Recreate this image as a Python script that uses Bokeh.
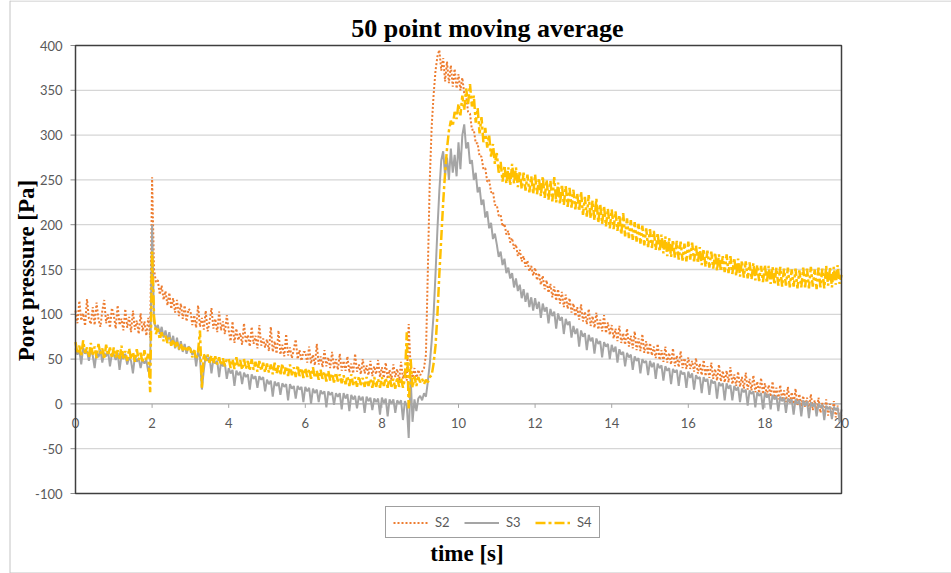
from math import pi

from bokeh.plotting import figure
from bokeh.models import Range1d, Legend, LegendItem, Label
from bokeh.core.properties import value
from bokeh.embed import file_html
from bokeh.resources import INLINE

# sample times, 0.05 s apart, 0 .. 20 s
time_s = [round(0.05 * i, 2) for i in range(401)]

# 50 point moving average of the pore pressure [Pa] at three sensors
s2 = [
    104, 90, 115, 93, 101, 87, 117, 95, 89, 108, 88, 113, 94, 86, 104, 116, 90, 100, 85, 107,
    99, 84, 110, 88, 95, 82, 106, 85, 97, 80, 104, 83, 93, 78, 101, 81, 92, 76, 96, 74,
    253, 150, 136, 138, 122, 132, 116, 126, 110, 124, 106, 118, 102, 116, 98, 112, 95, 110, 92, 106,
    104, 88, 99, 85, 110, 86, 96, 83, 104, 81, 92, 107, 84, 95, 80, 103, 82, 92, 78, 99,
    82, 70, 92, 68, 84, 71, 79, 66, 90, 68, 77, 64, 86, 67, 76, 62, 88, 65, 73, 63,
    72, 59, 86, 58, 70, 56, 82, 55, 66, 53, 78, 54, 63, 51, 61, 72, 50, 60, 48, 58,
    58, 46, 64, 45, 55, 43, 67, 44, 53, 41, 60, 42, 52, 40, 58, 39, 50, 38, 56, 37,
    48, 37, 53, 35, 45, 34, 56, 36, 44, 33, 50, 34, 43, 32, 48, 31, 42, 33, 49, 30,
    41, 29, 46, 28, 38, 27, 44, 30, 39, 26, 47, 28, 37, 26, 89, 40, 29, 40, 27, 38,
    32, 36, 40, 55, 150, 250, 310, 345, 372, 388, 395, 372, 386, 360, 382, 358, 378, 354, 374, 352,
    368, 350, 364, 346, 344, 326, 324, 306, 306, 291, 291, 276, 276, 262, 263, 248, 250, 236, 237, 222,
    222, 210, 211, 198, 201, 189, 193, 180, 185, 173, 178, 165, 172, 159, 165, 153, 160, 148, 154, 143,
    152, 138, 146, 133, 143, 128, 138, 124, 134, 119, 131, 115, 128, 112, 125, 108, 122, 106, 118, 102,
    112, 98, 108, 94, 111, 92, 103, 89, 106, 87, 98, 85, 102, 83, 94, 81, 99, 79, 91, 77,
    88, 73, 84, 70, 87, 68, 79, 66, 84, 64, 76, 62, 81, 60, 73, 59, 78, 57, 70, 55,
    68, 54, 64, 51, 67, 49, 60, 47, 64, 46, 57, 44, 62, 42, 54, 41, 59, 40, 51, 39,
    52, 39, 48, 36, 51, 34, 45, 32, 49, 31, 42, 29, 46, 28, 39, 26, 44, 25, 37, 24,
    37, 24, 41, 22, 33, 20, 36, 19, 30, 17, 35, 16, 28, 15, 32, 13, 25, 12, 29, 11,
    23, 10, 21, 8, 25, 7, 18, 5, 21, 4, 15, 2, 19, 1, 13, 0, 17, -2, 11, -3,
    9, -4, 7, -6, 11, -7, 4, -9, 7, -10, 1, -12, 5, -13, 0, -14, 3, -15, -2, -16,
    -12,
]

s3 = [
    62, 55, 60, 44, 63, 56, 59, 48, 61, 54, 40, 58, 52, 60, 46, 57, 53, 59, 42, 56,
    55, 49, 57, 38, 54, 50, 56, 44, 52, 48, 34, 53, 47, 51, 40, 50, 45, 49, 36, 44,
    200, 92, 84, 88, 78, 86, 74, 82, 70, 80, 66, 76, 62, 74, 60, 70, 58, 67, 56, 64,
    62, 55, 60, 42, 58, 52, 16, 38, 54, 48, 52, 34, 50, 45, 48, 30, 47, 42, 45, 28,
    40, 34, 38, 20, 37, 32, 36, 22, 35, 30, 33, 16, 33, 28, 31, 18, 31, 27, 30, 14,
    27, 22, 26, 8, 25, 20, 24, 10, 23, 19, 22, 4, 22, 17, 20, 6, 20, 16, 19, 2,
    19, 14, 18, 0, 17, 12, 16, 2, 15, 11, 14, -4, 14, 10, 13, -1, 12, 8, 12, -6,
    12, 6, 11, -8, 10, 5, 9, -5, 9, 4, 8, -10, 8, 3, 7, -7, 6, 2, 6, -12,
    7, 1, 6, -14, 5, 0, 5, -10, 4, 0, 4, -18, 3, -2, -38, 30, -20, 5, -8, 6,
    9, 4, 12, 8, 25, 45, 70, 100, 145, 195, 238, 272, 282, 255, 275, 250, 285, 258, 278, 254,
    292, 262, 300, 312, 285, 292, 268, 272, 250, 258, 236, 242, 222, 228, 208, 215, 196, 202, 184, 190,
    178, 164, 170, 155, 162, 146, 152, 140, 146, 130, 140, 126, 133, 118, 128, 114, 124, 108, 119, 104,
    118, 106, 114, 96, 112, 103, 108, 90, 106, 98, 103, 84, 101, 93, 97, 78, 95, 88, 92, 74,
    87, 78, 84, 64, 82, 75, 79, 60, 77, 70, 74, 56, 73, 67, 70, 52, 69, 64, 67, 50,
    66, 58, 64, 46, 61, 55, 58, 42, 57, 52, 55, 38, 53, 48, 51, 34, 50, 46, 48, 32,
    48, 41, 46, 28, 45, 40, 43, 26, 42, 37, 40, 22, 39, 35, 38, 20, 37, 33, 35, 18,
    36, 29, 34, 16, 32, 28, 30, 12, 30, 25, 28, 10, 27, 23, 25, 6, 24, 20, 23, 4,
    23, 17, 21, 4, 20, 15, 19, 2, 17, 13, 16, -2, 15, 11, 14, -4, 13, 9, 12, -6,
    13, 7, 11, -6, 10, 5, 9, -8, 8, 3, 7, -10, 6, 2, 5, -12, 5, 0, 4, -14,
    4, -2, 3, -16, 2, -3, 1, -14, 0, -4, -1, -18, -2, -6, -3, -17, -3, -7, -4, -20,
    -6,
]

s4 = [
    69, 56, 65, 53, 71, 57, 63, 52, 68, 55, 64, 51, 67, 56, 62, 50, 66, 54, 63, 51,
    63, 52, 60, 49, 65, 51, 59, 48, 62, 50, 58, 47, 61, 49, 57, 46, 60, 48, 56, 13,
    170, 98, 78, 84, 72, 80, 70, 76, 68, 74, 65, 72, 63, 69, 61, 67, 60, 65, 58, 63,
    61, 52, 60, 50, 59, 82, 18, 56, 48, 55, 46, 54, 45, 53, 44, 52, 43, 51, 42, 50,
    51, 40, 50, 39, 52, 41, 49, 38, 50, 39, 48, 37, 50, 38, 47, 36, 48, 37, 46, 35,
    45, 35, 44, 33, 46, 34, 43, 32, 45, 33, 42, 31, 44, 32, 41, 30, 43, 31, 40, 29,
    40, 30, 39, 28, 41, 29, 37, 27, 38, 28, 36, 25, 37, 26, 34, 24, 35, 25, 33, 23,
    32, 22, 31, 20, 33, 21, 30, 19, 31, 21, 29, 19, 30, 20, 28, 18, 30, 19, 28, 18,
    30, 20, 29, 18, 31, 19, 28, 17, 30, 19, 29, 18, 28, 80, -5, 50, 18, 31, 20, 30,
    24, 28, 22, 27, 24, 30, 32, 45, 65, 100, 145, 185, 225, 258, 285, 305, 316, 310, 326, 318,
    335, 322, 344, 328, 352, 334, 357, 332, 344, 314, 330, 302, 320, 292, 308, 286, 300, 276, 290, 268,
    280, 258, 270, 248, 266, 246, 264, 244, 268, 246, 264, 242, 260, 240, 258, 238, 256, 236, 254, 234,
    256, 234, 252, 232, 254, 230, 250, 228, 249, 226, 253, 225, 247, 223, 245, 222, 243, 220, 241, 219,
    239, 217, 235, 215, 237, 211, 231, 209, 233, 207, 227, 205, 229, 202, 223, 201, 221, 198, 218, 196,
    217, 195, 215, 193, 211, 189, 213, 187, 207, 185, 205, 183, 203, 181, 201, 179, 199, 177, 196, 175,
    195, 174, 193, 172, 191, 170, 189, 168, 187, 165, 185, 164, 183, 163, 182, 161, 181, 160, 179, 159,
    181, 161, 180, 159, 177, 157, 175, 155, 173, 153, 171, 152, 170, 151, 169, 149, 167, 148, 165, 147,
    167, 146, 165, 145, 163, 143, 162, 142, 160, 141, 159, 140, 158, 139, 157, 138, 155, 137, 154, 136,
    155, 135, 154, 134, 153, 133, 152, 132, 153, 131, 151, 132, 152, 130, 150, 131, 151, 129, 149, 130,
    152, 130, 151, 129, 153, 131, 150, 128, 152, 130, 151, 129, 154, 132, 152, 130, 153, 133, 155, 134,
    144,
]

x_ticks = [0, 2, 4, 6, 8, 10, 12, 14, 16, 18, 20]
x_labels = ["0", "2", "4", "6", "8", "10", "12", "14", "16", "18", "20"]
y_ticks = [-100, -50, 0, 50, 100, 150, 200, 250, 300, 350, 400]
y_labels = ["-100", "-50", "0", "50", "100", "150", "200", "250", "300", "350", "400"]

X_MIN, X_MAX = 0, 20
Y_MIN, Y_MAX = -100, 400

# page size and the pixel box of the plotting area
W, H = 951, 573
PL, PR, PT, PB = 75, 841, 45, 493
XS = (X_MAX - X_MIN) / (PR - PL)   # data units per pixel
YS = (Y_MAX - Y_MIN) / (PB - PT)


def dx(px):
    return X_MIN + (px - PL) * XS


def dy(py):
    return Y_MAX - (py - PT) * YS


TICK_FONT = value("Lato")
TICK_COLOR = "#595959"
SERIF = "Liberation Serif"

# the frame fills the whole canvas; axes, grid and frame are drawn as glyphs
p = figure(
    width=W, height=H,
    x_range=Range1d(dx(0), dx(W)), y_range=Range1d(dy(H), dy(0)),
    output_backend="svg", toolbar_location=None,
    x_axis_location=None, y_axis_location=None,
    min_border=0, title=None,
)
p.outline_line_color = None
p.background_fill_color = "white"
p.border_fill_color = "white"
p.xgrid.visible = False
p.ygrid.visible = False

# chart-area border
p.segment(x0=[dx(9.5), dx(9.5), dx(9.5)], y0=[dy(0), dy(0.5), dy(572.5)],
          x1=[dx(9.5), dx(W), dx(W)], y1=[dy(H), dy(0.5), dy(572.5)],
          line_color="#c4c4c4", line_width=1)

# horizontal gridlines
inner = [t for t in y_ticks if Y_MIN < t < Y_MAX and t != 0]
p.segment(x0=[X_MIN] * len(inner), x1=[X_MAX] * len(inner), y0=inner, y1=inner,
          line_color="#d6d6d6", line_width=1.3)

# x axis along zero pressure, with outward ticks
p.segment(x0=[X_MIN], x1=[X_MAX], y0=[0], y1=[0], line_color="#a6a6a6", line_width=1.3)
p.segment(x0=x_ticks, x1=x_ticks, y0=[0] * len(x_ticks), y1=[-4 * YS] * len(x_ticks),
          line_color="#a6a6a6", line_width=1)
p.text(x=x_ticks, y=[dy(422)] * len(x_ticks), text=x_labels,
       text_font=TICK_FONT, text_font_size="13px", text_color=TICK_COLOR,
       text_align="center", text_baseline="middle")

# y axis ticks and labels
p.segment(x0=[X_MIN - 5 * XS] * len(y_ticks), x1=[X_MIN] * len(y_ticks), y0=y_ticks, y1=y_ticks,
          line_color="#8c8c8c", line_width=1)
p.text(x=[dx(62)] * len(y_ticks), y=y_ticks, text=y_labels,
       text_font=TICK_FONT, text_font_size="13px", text_color=TICK_COLOR,
       text_align="right", text_baseline="middle")

# series
r2 = p.line(time_s, s2, line_color="#ED7D31", line_width=2.0, line_dash="2 2")
r3 = p.line(time_s, s3, line_color="#A5A5A5", line_width=2.0)
r4 = p.line(time_s, s4, line_color="#FFC000", line_width=2.5, line_dash="10 3 3 3")

# plotting-area frame
p.quad(left=[X_MIN], right=[X_MAX], bottom=[Y_MIN], top=[Y_MAX],
       fill_color=None, line_color="#3f3f3f", line_width=1.5)

legend = Legend(
    items=[
        LegendItem(label="S2", renderers=[r2]),
        LegendItem(label="S3", renderers=[r3]),
        LegendItem(label="S4", renderers=[r4]),
    ],
    orientation="horizontal",
    location=(385, H - 538),
    margin=0,
    padding=7,
    spacing=14,
    glyph_width=35,
    glyph_height=13,
    label_height=13,
    label_width=15,
    label_standoff=7,
    label_text_font="Lato",
    label_text_font_size="13px",
    label_text_color=TICK_COLOR,
    border_line_color="#3f3f3f",
    border_line_width=1.5,
    background_fill_color="white",
    background_fill_alpha=1.0,
)
p.add_layout(legend)

p.add_layout(Label(
    x=dx(487), y=dy(28), text="50 point moving average",
    text_font=SERIF, text_font_style="bold", text_font_size="26px",
    text_color="black", text_align="center", text_baseline="middle",
))
p.add_layout(Label(
    x=dx(26), y=dy(270), angle=pi / 2, text="Pore pressure [Pa]",
    text_font=SERIF, text_font_style="bold", text_font_size="23px",
    text_color="black", text_align="center", text_baseline="middle",
))
p.add_layout(Label(
    x=dx(466.5), y=dy(553), text="time [s]",
    text_font=SERIF, text_font_style="bold", text_font_size="23px",
    text_color="black", text_align="center", text_baseline="middle",
))

open("out.html", "w").write(file_html(p, INLINE))
